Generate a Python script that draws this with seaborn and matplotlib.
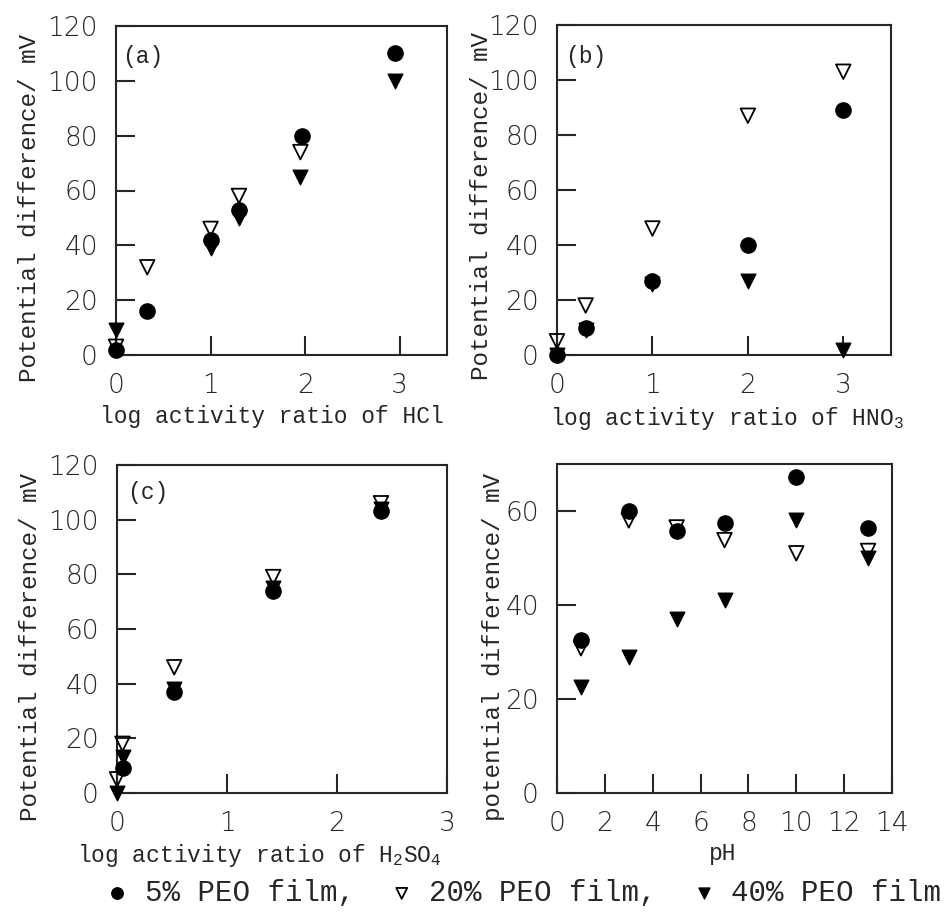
import matplotlib
matplotlib.use("Agg")
import matplotlib.pyplot as plt
import seaborn as sns
import pandas as pd

# panel (a): HCl
hcl_x5 = [0, 0.33, 1.0, 1.3, 1.97, 2.95]
hcl_y5 = [2, 16, 42, 53, 80, 110]
hcl_x20 = [0, 0.33, 1.0, 1.3, 1.95]
hcl_y20 = [3, 32, 46, 58, 74]
hcl_x40 = [0, 1.0, 1.3, 1.95, 2.95]
hcl_y40 = [9, 39, 50, 65, 100]

# panel (b): HNO3
hno3_x5 = [0, 0.3, 1.0, 2.0, 3.0]
hno3_y5 = [0, 10, 27, 40, 89]
hno3_x20 = [0, 0.3, 1.0, 2.0, 3.0]
hno3_y20 = [5, 18, 46, 87, 103]
hno3_x40 = [0, 0.3, 1.0, 2.0, 3.0]
hno3_y40 = [0, 9, 26, 27, 2]

# panel (c): H2SO4
h2so4_x5 = [0.05, 0.52, 1.42, 2.4]
h2so4_y5 = [9, 37, 74, 103]
h2so4_x20 = [0, 0.05, 0.52, 1.42, 2.4]
h2so4_y20 = [5, 18, 46, 79, 106]
h2so4_x40 = [0, 0.05, 0.52, 1.42, 2.4]
h2so4_y40 = [0, 13, 38, 75, 104]

# panel (d): pH
ph_x = [1, 3, 5, 7, 10, 13]
ph_y5 = [32.6, 60, 55.7, 57.4, 67.3, 56.4]
ph_y20 = [30.8, 58, 56.5, 53.8, 51, 51.5]
ph_y40 = [22.5, 29, 37, 41, 58, 50]

labels = ["5% PEO film,", "20% PEO film,", "40% PEO film"]

sns.set_style("ticks")
mono = "Liberation Mono"
plt.rcParams["mathtext.fontset"] = "custom"
plt.rcParams["mathtext.rm"] = mono
plt.rcParams["mathtext.it"] = mono
plt.rcParams["axes.linewidth"] = 1.5

fig = plt.figure(figsize=(9.44, 9.15), dpi=100)

W, H = 944, 915


def make_ax(l, t, r, b):
    return fig.add_axes([l / W, (H - b) / H, (r - l) / W, (b - t) / H])


ax_a = make_ax(116, 26, 447, 355)
ax_b = make_ax(557, 25, 891, 355)
ax_c = make_ax(117, 465, 447, 793)
ax_d = make_ax(557, 464, 892, 793)


def draw(ax, x5, y5, x20, y20, x40, y40):
    d40 = pd.DataFrame({"x": x40, "y": y40})
    d5 = pd.DataFrame({"x": x5, "y": y5})
    d20 = pd.DataFrame({"x": x20, "y": y20})
    sns.scatterplot(data=d40, x="x", y="y", ax=ax, marker="v", s=110,
                    color="black", edgecolor="black", linewidth=1, label=labels[2], clip_on=False, zorder=3)
    sns.scatterplot(data=d5, x="x", y="y", ax=ax, marker="o", s=120,
                    color="black", edgecolor="black", linewidth=1, label=labels[0], clip_on=False, zorder=4)
    sns.scatterplot(data=d20, x="x", y="y", ax=ax, marker="v", s=110,
                    facecolor="none", edgecolor="black", linewidth=1.3, label=labels[1], clip_on=False, zorder=5)
    ax.get_legend().remove()


def style(ax, xlim, ylim, xticks, yticks, xlabel, ylabel, xl, yl, tag=None):
    ax.set_xlim(*xlim)
    ax.set_ylim(*ylim)
    ax.set_xticks(xticks)
    ax.set_yticks(yticks)
    ax.tick_params(direction="in", length=14, width=1.5, pad=13, labelsize=19,
                   top=False, right=False)
    for t in ax.get_xticklabels() + ax.get_yticklabels():
        t.set_fontfamily("DejaVu Sans")
        t.set_fontweight("light")
    ax.set_xlabel(xlabel, fontfamily=mono, fontsize=16.5)
    ax.set_ylabel(ylabel, fontfamily=mono, fontsize=17.5)
    ax.xaxis.set_label_coords(xl[0], xl[1])
    ax.yaxis.set_label_coords(yl[0], yl[1])
    if tag:
        ax.text(tag[1], tag[2], tag[0], transform=ax.transAxes, fontfamily=mono,
                fontsize=16.5, va="center", ha="left")


draw(ax_a, hcl_x5, hcl_y5, hcl_x20, hcl_y20, hcl_x40, hcl_y40)
style(ax_a, (0, 3.5), (0, 120), [0, 1, 2, 3], [0, 20, 40, 60, 80, 100, 120],
      "log activity ratio of HCl", "Potential difference/ mV",
      (0.47, -0.152), (-0.228, 0.447), ("(a)", 0.02, 0.906))

draw(ax_b, hno3_x5, hno3_y5, hno3_x20, hno3_y20, hno3_x40, hno3_y40)
style(ax_b, (0, 3.5), (0, 120), [0, 1, 2, 3], [0, 20, 40, 60, 80, 100, 120],
      "log activity ratio of HNO$_3$", "Potential difference/ mV",
      (0.51, -0.15), (-0.192, 0.45), ("(b)", 0.024, 0.906))

draw(ax_c, h2so4_x5, h2so4_y5, h2so4_x20, h2so4_y20, h2so4_x40, h2so4_y40)
style(ax_c, (0, 3), (0, 120), [0, 1, 2, 3], [0, 20, 40, 60, 80, 100, 120],
      "log activity ratio of H$_2$SO$_4$", "Potential difference/ mV",
      (0.43, -0.149), (-0.228, 0.445), ("(c)", 0.03, 0.915))

draw(ax_d, ph_x, ph_y5, ph_x, ph_y20, ph_x, ph_y40)
style(ax_d, (0, 14), (0, 70), [0, 2, 4, 6, 8, 10, 12, 14], [0, 20, 40, 60],
      "pH", "potential difference/ mV",
      (0.496, -0.149), (-0.155, 0.445))

handles, lbls = ax_a.get_legend_handles_labels()
order = [lbls.index(l) for l in labels]
fig.legend([handles[i] for i in order], [lbls[i] for i in order],
           loc="center", bbox_to_anchor=(0.553, 0.024), ncol=3, frameon=False,
           prop={"family": mono, "size": 21}, markerscale=0.75, borderpad=0,
           handlelength=1.0, handletextpad=0.45, columnspacing=1.1)

fig.savefig("out.png", dpi=100)
